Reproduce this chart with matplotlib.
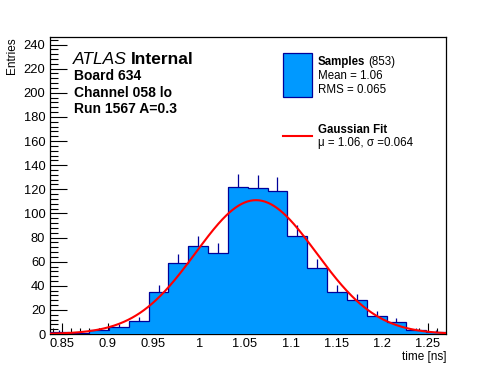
import numpy as np
import matplotlib
matplotlib.use("Agg")
import matplotlib.pyplot as plt
from matplotlib.ticker import MultipleLocator, FuncFormatter
from matplotlib.patches import Rectangle
from matplotlib.lines import Line2D

plt.rcParams['font.family'] = ['Liberation Sans', 'DejaVu Sans']

# ---- data ----
x_min, x_max = 0.8363, 1.2697
counts = [2, 1, 3, 6, 11, 35, 59, 73, 67, 122, 121, 119, 81, 55, 35, 28, 15, 10, 3, 2]
fit_amp, fit_mu, fit_sigma = 111.0, 1.062, 0.066
y_max = 246
n_entries = 853
mean_txt, rms_txt = "1.06", "0.065"
mu_txt, sigma_txt = "1.06", "0.064"

counts = np.array(counts, dtype=float)
edges = np.linspace(x_min, x_max, len(counts) + 1)
centers = 0.5 * (edges[:-1] + edges[1:])

fill_col = '#0099ff'
edge_col = '#000099'

fig = plt.figure(figsize=(4.96, 3.72), dpi=100)
ax = fig.add_axes([0.0998, 0.102, 0.7994, 0.7977])

# error bars (upper part visible)
ax.vlines(centers, counts, counts + np.sqrt(counts), color=edge_col, lw=0.9, zorder=2)
ax.stairs(counts, edges, fill=True, color=fill_col, zorder=3)
ax.stairs(counts, edges, fill=False, color=edge_col, lw=0.9, zorder=4, baseline=0)

xf = np.linspace(x_min, x_max, 400)
yf = fit_amp * np.exp(-0.5 * ((xf - fit_mu) / fit_sigma) ** 2)
ax.plot(xf, yf, color='red', lw=1.5, zorder=5)

ax.set_xlim(x_min, x_max)
ax.set_ylim(0, y_max)

ax.xaxis.set_major_locator(MultipleLocator(0.05))
ax.xaxis.set_minor_locator(MultipleLocator(0.01))
ax.yaxis.set_major_locator(MultipleLocator(20))
ax.yaxis.set_minor_locator(MultipleLocator(4))
ax.xaxis.set_major_formatter(FuncFormatter(lambda v, p: ('%g' % round(v, 3))))
ax.tick_params(axis='x', which='major', direction='in', length=8, width=0.8, labelsize=9.3, pad=3)
ax.tick_params(axis='x', which='minor', direction='in', length=4, width=0.8)
ax.tick_params(axis='y', which='major', direction='in', length=12, width=0.8, labelsize=9.3, pad=3)
ax.tick_params(axis='y', which='minor', direction='in', length=6, width=0.8)
ax.tick_params(top=False, right=False, which='both')
for s in ax.spines.values():
    s.set_linewidth(0.9)

fig.text(446 / 496, 1 - 360 / 372, 'time [ns]', ha='right', va='baseline', fontsize=8.5)
fig.text(12 / 496, 1 - 37 / 372, 'Entries', ha='center', va='top', rotation=90, fontsize=8.5)


def ftxt(x, y, s, **kw):
    return fig.text(x / 496, 1 - y / 372, s, va='baseline', **kw)


# ATLAS label
t = ftxt(73, 63.5, 'ATLAS', fontsize=12.5, style='italic')
fig.canvas.draw()
bb = t.get_window_extent()
ftxt(bb.x1 + 4, 63.5, 'Internal', fontsize=12.5, weight='bold')
ftxt(74, 80, 'Board 634', fontsize=10, weight='bold')
ftxt(74, 96.7, 'Channel 058 lo', fontsize=10, weight='bold')
ftxt(74, 112.7, 'Run 1567 A=0.3', fontsize=10, weight='bold')

# legend
fig.add_artist(Rectangle((283.3 / 496, 1 - 96.7 / 372), 28.4 / 496, 43.4 / 372,
                         facecolor=fill_col, edgecolor=edge_col, lw=0.9, transform=fig.transFigure))
fig.add_artist(Line2D([283.3 / 496, 311.7 / 496], [1 - 136 / 372, 1 - 136 / 372],
                      color='red', lw=1.5, transform=fig.transFigure))
t2 = ftxt(317.7, 65, 'Samples', fontsize=8.3, weight='bold')
fig.canvas.draw()
bb2 = t2.get_window_extent()
fig.text((bb2.x1 + 3) / 496, 1 - 65 / 372, '(%d)' % n_entries, va='baseline', fontsize=8.3)
ftxt(317.7, 79.3, 'Mean = ' + mean_txt, fontsize=8.3)
ftxt(317.7, 93.3, 'RMS = ' + rms_txt, fontsize=8.3)
ftxt(317.7, 132.7, 'Gaussian Fit', fontsize=8.3, weight='bold')
ftxt(317.7, 146, 'μ = %s, σ =%s' % (mu_txt, sigma_txt), fontsize=8.3)

fig.savefig('out.png', dpi=100)
